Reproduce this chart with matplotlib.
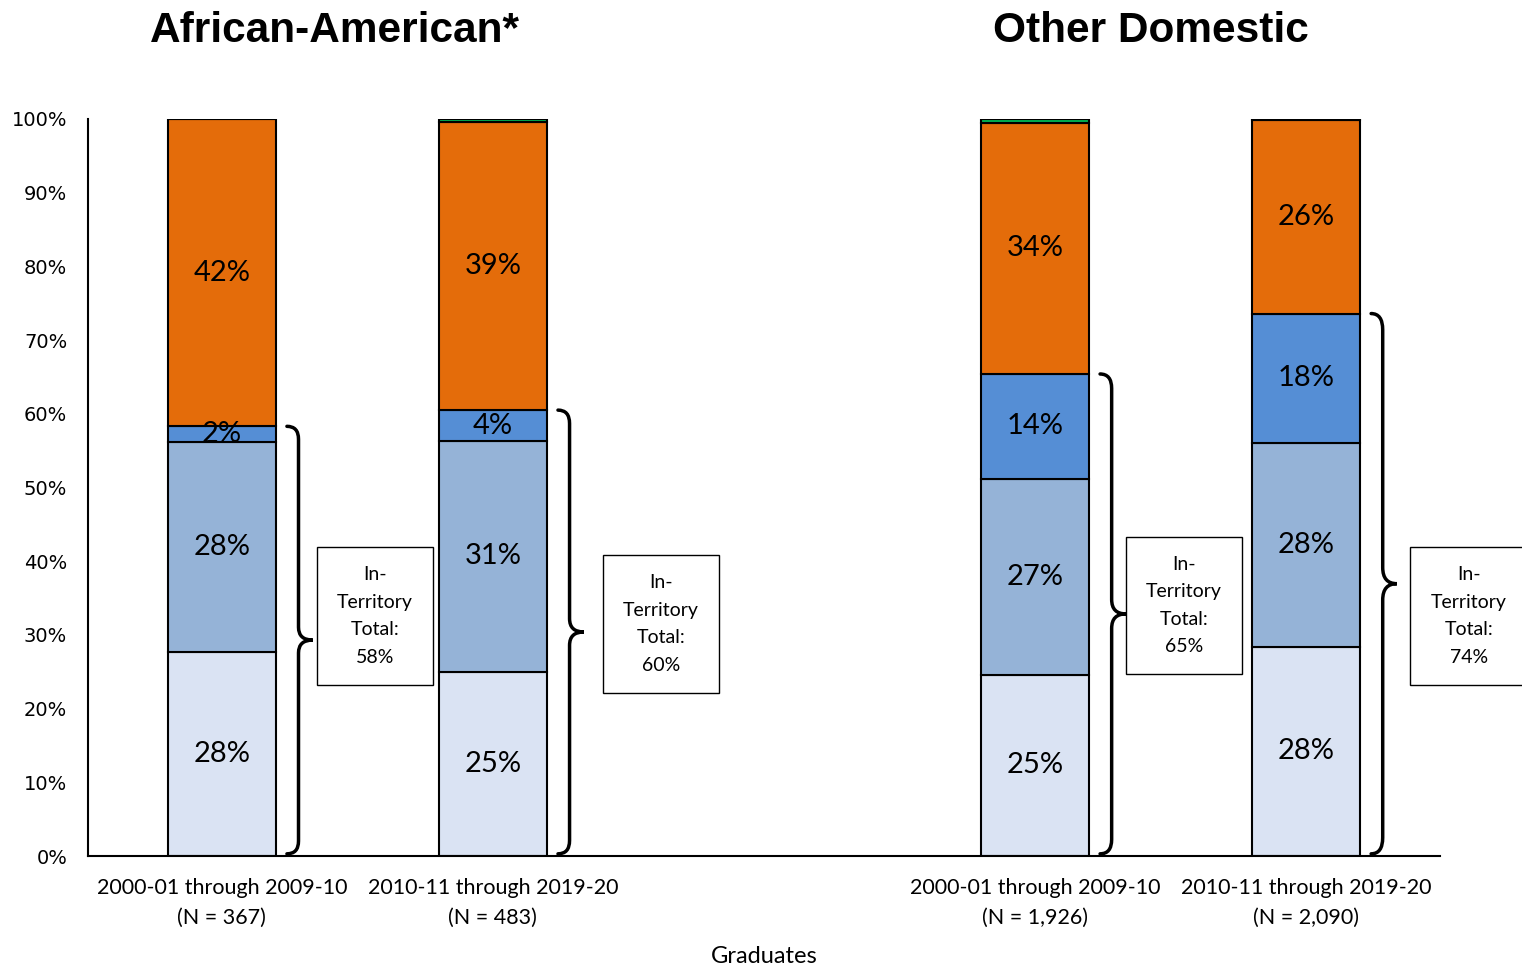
import numpy as np
import matplotlib.pyplot as plt
from matplotlib.path import Path
from matplotlib.patches import PathPatch, Rectangle

# data (percent of graduates)
groups = ['African-American*', 'Other Domestic']
periods = ['2000-01 through 2009-10\n(N = 367)', '2010-11 through 2019-20\n(N = 483)',
           '2000-01 through 2009-10\n(N = 1,926)', '2010-11 through 2019-20\n(N = 2,090)']
seg_light = [27.7, 25.0, 24.6, 28.4]
seg_mid = [28.5, 31.3, 26.6, 27.7]
seg_blue = [2.1, 4.2, 14.2, 17.5]
seg_orange = [41.7, 39.1, 34.1, 26.3]
seg_green = [0.0, 0.4, 0.5, 0.1]
labels_light = ['28%', '25%', '25%', '28%']
labels_mid = ['28%', '31%', '27%', '28%']
labels_blue = ['2%', '4%', '14%', '18%']
labels_orange = ['42%', '39%', '34%', '26%']
in_territory = ['58%', '60%', '65%', '74%']

colors = ['#DAE3F3', '#95B3D7', '#558ED5', '#E46C0A', '#00B050']
x = np.array([0, 1, 3, 4])
width = 0.4

label_font = ['Lato', 'DejaVu Sans']

fig = plt.figure(figsize=(15.22, 9.72), dpi=100)
ax = fig.add_axes([0.0578, 0.1193, 0.8883, 0.7583])

segs = [seg_light, seg_mid, seg_blue, seg_orange, seg_green]
labs = [labels_light, labels_mid, labels_blue, labels_orange, None]
bottom = np.zeros(len(x))
for vals, col, lab in zip(segs, colors, labs):
    vals = np.array(vals)
    ax.bar(x, vals, width, bottom=bottom, color=col, edgecolor='black', linewidth=1.5, zorder=2)
    if lab is not None:
        for xi, b, v, t in zip(x, bottom, vals, lab):
            ax.text(xi, b + v / 2, t, ha='center', va='center', fontsize=21,
                    family=label_font, zorder=3)
    bottom += vals


def brace(ax, x0, x1, y0, y1):
    # curly brace opening to the left, tip pointing right at x1
    xm = x0 + (x1 - x0) * 0.45
    ym = (y0 + y1) / 2
    h = (y1 - y0)
    c = h * 0.03
    verts = [
        (x0, y1),
        (xm, y1), (xm, y1 - c),
        (xm, ym + c),
        (xm, ym), (x1, ym),
        (xm, ym), (xm, ym - c),
        (xm, y0 + c),
        (xm, y0), (x0, y0),
    ]
    codes = [Path.MOVETO,
             Path.CURVE3, Path.CURVE3,
             Path.LINETO,
             Path.CURVE3, Path.CURVE3,
             Path.CURVE3, Path.CURVE3,
             Path.LINETO,
             Path.CURVE3, Path.CURVE3]
    ax.add_patch(PathPatch(Path(verts, codes), fill=False, lw=2.5, color='black',
                           capstyle='round', clip_on=False, zorder=4))


totals = np.array(seg_light) + np.array(seg_mid) + np.array(seg_blue)
box_xoff = [0.565, 0.62, 0.55, 0.60]
box_y = [32.6, 31.5, 34.0, 32.6]
for xi, tot, t, bx, by in zip(x, totals, in_territory, box_xoff, box_y):
    brace(ax, xi + 0.24, xi + 0.335, 0.3, tot)
    ax.add_patch(Rectangle((xi + bx - 0.215, by - 9.35), 0.43, 18.7, facecolor='white',
                           edgecolor='black', lw=1.0, clip_on=False, zorder=3))
    ax.text(xi + bx, by, 'In-\nTerritory\nTotal:\n' + t, ha='center', va='center',
            fontsize=14, family=label_font, linespacing=1.75, zorder=4, clip_on=False)

ax.set_xlim(-0.494, 4.494)
ax.set_ylim(0, 100)
ax.set_yticks(np.arange(0, 101, 10))
ax.set_yticklabels([f'{v}%' for v in range(0, 101, 10)], fontsize=14, family='DejaVu Sans')
ax.set_xticks(x)
ax.set_xticklabels(periods, fontsize=15.5, family=label_font, linespacing=1.6)
ax.tick_params(length=0, pad=16)
ax.tick_params(axis='y', pad=15)
ax.spines['top'].set_visible(False)
ax.spines['right'].set_visible(False)
ax.spines['left'].set_linewidth(1.5)
ax.spines['bottom'].set_linewidth(1.5)
ax.set_xlabel('Graduates', fontsize=17, family=label_font, labelpad=13)

fig.text(0.22, 0.968, groups[0], ha='center', va='center', fontsize=30.5,
         fontweight='bold', family='Liberation Sans')
fig.text(0.756, 0.968, groups[1], ha='center', va='center', fontsize=30.5,
         fontweight='bold', family='Liberation Sans')

fig.savefig('out.png', dpi=100)
